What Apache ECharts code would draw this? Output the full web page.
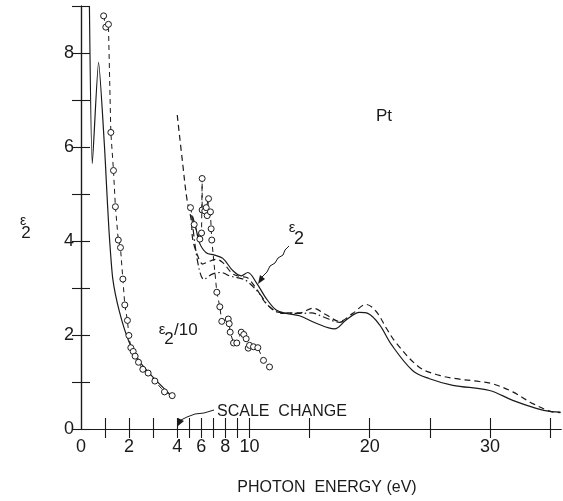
<!DOCTYPE html>
<html lang="en">
<head>
<meta charset="UTF-8">
<title>Pt epsilon2</title>
<style>
    html, body {
        margin: 0;
        padding: 0;
        background: #fff;
    }

    #chart {
        width: 563px;
        height: 501px;
    }
</style>
</head>
<body>
<div id="chart"></div>
<script src="https://cdn.jsdelivr.net/npm/echarts@6/dist/echarts.min.js"></script>
<script>
    // photon energy (eV), eps2
    var solidLow = [[0.35, 9.0], [0.47, 5.65], [0.73, 7.80], [0.98, 5.98], [1.05, 5.29], [1.16, 4.25], [1.32, 3.20],
        [1.60, 2.49], [1.99, 1.86], [2.43, 1.44], [2.98, 1.11], [3.79, 0.69]];

    var circlesLow = [[0.94, 8.79], [1.03, 8.55], [1.14, 8.61], [1.24, 6.31], [1.35, 5.50], [1.43, 4.73], [1.55, 4.02],
        [1.64, 3.86], [1.74, 3.19], [1.82, 2.64], [1.93, 2.31], [1.99, 1.99], [2.07, 1.73], [2.17, 1.65], [2.25, 1.55],
        [2.39, 1.42], [2.57, 1.27], [2.79, 1.19], [3.07, 1.02], [3.47, 0.79], [3.79, 0.71]];

    var circlesHigh = [[5.10, 4.71], [5.41, 4.35], [5.88, 4.04], [6.02, 4.17], [6.07, 5.33], [6.07, 4.66], [6.29, 4.64],
        [6.41, 4.71], [6.60, 4.90], [6.49, 4.54], [6.76, 4.62], [6.82, 4.26], [6.87, 4.02], [7.29, 2.91], [7.54, 2.60],
        [7.70, 2.29], [8.24, 2.34], [8.32, 2.24], [8.40, 2.06], [8.68, 1.83], [8.95, 1.83], [9.32, 2.06], [9.53, 2.01],
        [9.73, 1.92], [9.90, 1.72], [10.01, 1.78], [10.34, 1.75], [10.70, 1.73], [11.17, 1.46], [11.67, 1.32]];

    var eps2Solid = [[5.27, 4.52], [5.52, 4.31], [5.85, 3.96], [6.41, 3.75], [7.10, 3.70], [7.79, 3.63], [8.62, 3.37],
        [9.32, 3.26], [9.87, 3.33], [10.56, 3.12], [11.39, 2.78], [12.23, 2.53], [13.06, 2.46], [14.16, 2.41],
        [15.55, 2.25], [17.07, 2.13], [18.04, 2.32], [19.15, 2.48], [19.84, 2.46], [20.81, 2.22], [21.79, 1.80],
        [23.58, 1.24], [24.97, 1.07], [26.91, 0.93], [29.96, 0.82], [31.89, 0.61], [33.84, 0.44], [35.09, 0.37],
        [35.86, 0.36]];

    var eps2Dashed = [[4.0, 6.68], [4.46, 5.63], [4.80, 4.90], [5.16, 4.45], [5.29, 4.03], [5.71, 3.68], [6.12, 3.51],
        [6.41, 3.54], [7.24, 3.61], [7.79, 3.54], [8.62, 3.30], [9.32, 3.24], [9.73, 3.23], [10.56, 2.99],
        [11.39, 2.67], [12.50, 2.48], [14.16, 2.47], [15.27, 2.57], [16.38, 2.43], [17.49, 2.29], [18.59, 2.46],
        [19.71, 2.65], [20.54, 2.50], [21.37, 2.15], [22.20, 1.83], [24.14, 1.31], [25.81, 1.14], [27.19, 1.07],
        [29.12, 1.01], [30.23, 0.96], [31.89, 0.79], [33.56, 0.54], [35.09, 0.37], [35.86, 0.35]];

    var eps2DashDot = [[5.20, 4.55], [6.21, 3.18], [6.96, 3.30], [7.65, 3.33], [8.34, 3.26], [9.18, 3.21],
        [9.73, 3.16], [10.84, 2.88], [11.67, 2.60], [12.77, 2.46], [14.44, 2.46], [15.14, 2.47], [16.10, 2.39],
        [17.49, 2.27], [18.18, 2.36]];

    var xLabelEv = [0, 2, 4, 6, 8, 10, 20, 30];
    var xTickEv = [1, 2, 3, 4, 5, 6, 7, 8, 9, 10, 15, 20, 25, 30, 35];
    var yLabels = [0, 2, 4, 6, 8];

    // scale change at 4 eV: below it the axis runs at twice the scale
    var toAxis = function (ev) {
        return ev <= 4 ? ev * 2 : ev + 4;
    };
    var fromAxis = function (u) {
        return u <= 8 ? u / 2 : u - 4;
    };
    var mapPts = function (pts) {
        return pts.map(function (p) {
            return [toAxis(p[0]), p[1]];
        });
    };

    var ink = '#1a1a1a';
    var font = 'Liberation Sans';
    var xMax = 39.9;

    var lineSeries = function (data, type, smooth) {
        return {
            type: 'line',
            data: mapPts(data),
            showSymbol: false,
            symbol: 'none',
            smooth: smooth,
            lineStyle: {color: ink, width: 1.2, type: type},
            z: 3
        };
    };

    var circleSeries = function (data) {
        return {
            type: 'line',
            data: mapPts(data),
            symbol: 'circle',
            symbolSize: 6,
            itemStyle: {color: '#fff', borderColor: ink, borderWidth: 1},
            lineStyle: {color: ink, width: 1, type: [5, 4]},
            z: 4
        };
    };

    var tickVals = xTickEv.map(toAxis);

    var option = {
        animation: false,
        backgroundColor: '#fff',
        grid: {left: 81, right: 2, top: 6, bottom: 65},
        xAxis: [
            {
                type: 'value',
                min: 0,
                max: xMax,
                name: 'PHOTON  ENERGY (eV)',
                nameLocation: 'middle',
                nameGap: 51,
                nameTextStyle: {color: ink, fontSize: 16, fontFamily: font, padding: [0, 0, 0, 12]},
                axisLine: {show: true, lineStyle: {color: ink, width: 1.2}},
                axisTick: {show: true, inside: true, length: 11, customValues: tickVals, lineStyle: {color: ink, width: 1.1}},
                axisLabel: {
                    customValues: xLabelEv.map(toAxis),
                    color: ink,
                    fontSize: 18,
                    fontFamily: font,
                    margin: 9,
                    formatter: function (v) {
                        return String(Math.round(fromAxis(v)));
                    }
                },
                splitLine: {show: false}
            },
            {
                type: 'value',
                position: 'top',
                min: 0,
                max: xMax,
                axisLine: {show: true, lineStyle: {color: ink, width: 1.2}},
                axisTick: {show: true, inside: true, length: 9, customValues: tickVals, lineStyle: {color: ink, width: 1.1}},
                axisLabel: {show: false},
                splitLine: {show: false}
            }
        ],
        yAxis: [
            {
                type: 'value',
                min: 0,
                max: 9,
                interval: 1,
                axisLine: {show: true, lineStyle: {color: ink, width: 1.2}},
                axisTick: {show: true, inside: true, length: 9, lineStyle: {color: ink, width: 1.1}},
                axisLabel: {customValues: yLabels, color: ink, fontSize: 18, fontFamily: font, margin: 7},
                splitLine: {show: false}
            },
            {
                type: 'value',
                position: 'right',
                min: 0,
                max: 9,
                interval: 1,
                axisLine: {show: true, lineStyle: {color: ink, width: 1.2}},
                axisTick: {show: true, inside: true, length: 9, lineStyle: {color: ink, width: 1.1}},
                axisLabel: {show: false},
                splitLine: {show: false}
            }
        ],
        series: [
            lineSeries(solidLow, 'solid', 0.2),
            circleSeries(circlesLow),
            circleSeries(circlesHigh),
            lineSeries(eps2Dashed, [6, 4], 0.35),
            lineSeries(eps2Solid, 'solid', 0.35),
            lineSeries(eps2DashDot, [7, 3, 1.5, 3], 0.35)
        ],
        graphic: [
            // y axis title
            {type: 'text', style: {x: 23, y: 221, text: 'ε', fontSize: 14, fontFamily: font, fill: ink, align: 'center', verticalAlign: 'middle'}},
            {type: 'text', style: {x: 26, y: 233, text: '2', fontSize: 17, fontFamily: font, fill: ink, align: 'center', verticalAlign: 'middle'}},
            // Pt
            {type: 'text', style: {x: 384, y: 116, text: 'Pt', fontSize: 17, fontFamily: font, fill: ink, align: 'center', verticalAlign: 'middle'}},
            // eps2 label with arrow
            {type: 'text', style: {x: 292, y: 228, text: 'ε', fontSize: 15, fontFamily: font, fill: ink, align: 'center', verticalAlign: 'middle'}},
            {type: 'text', style: {x: 299, y: 239, text: '2', fontSize: 18, fontFamily: font, fill: ink, align: 'center', verticalAlign: 'middle'}},
            {
                type: 'polyline',
                shape: {points: [[289, 246], [285, 250], [283, 255], [278, 258], [275, 263], [270, 266], [267, 272], [262, 277]]},
                style: {stroke: ink, lineWidth: 1, fill: null}
            },
            {type: 'polygon', shape: {points: [[258, 284], [260, 275], [265, 279]]}, style: {fill: ink}},
            // eps2/10 label
            {type: 'text', style: {x: 162, y: 330, text: 'ε', fontSize: 15, fontFamily: font, fill: ink, align: 'center', verticalAlign: 'middle'}},
            {type: 'text', style: {x: 169, y: 339, text: '2', fontSize: 17, fontFamily: font, fill: ink, align: 'center', verticalAlign: 'middle'}},
            {type: 'text', style: {x: 174, y: 330, text: '/10', fontSize: 17, fontFamily: font, fill: ink, align: 'left', verticalAlign: 'middle'}},
            // scale change note
            {type: 'text', style: {x: 217, y: 412, text: 'SCALE  CHANGE', fontSize: 16, fontFamily: font, fill: ink, align: 'left', verticalAlign: 'middle'}},
            {
                type: 'polyline',
                shape: {points: [[214, 410], [204, 413], [195, 414], [187, 417], [181, 420]]},
                style: {stroke: ink, lineWidth: 1, fill: null}
            },
            {type: 'polygon', shape: {points: [[178, 426], [178, 418], [184, 421]]}, style: {fill: ink}}
        ]
    };

    var chart = echarts.init(document.getElementById('chart'));
    chart.setOption(option);
</script>
</body>
</html>
